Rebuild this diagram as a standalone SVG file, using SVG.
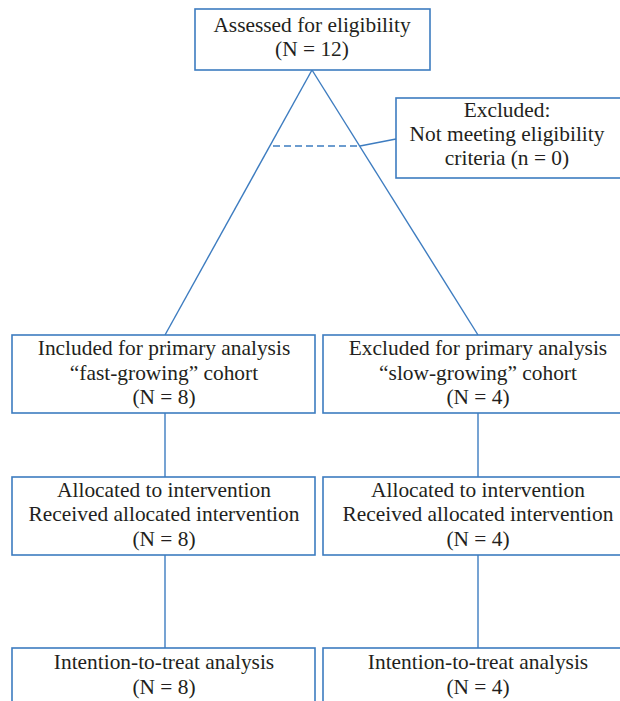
<svg xmlns="http://www.w3.org/2000/svg" width="620" height="701" viewBox="0 0 620 701">
<style>
.box{fill:#fff;stroke:#3d7cc0;stroke-width:1.6}
.ln{fill:none;stroke:#3d7cc0;stroke-width:1.4}
.dash{stroke-dasharray:7,4}
text{font-family:"Liberation Serif","DejaVu Serif",serif;font-size:21.4px;fill:#231f20;text-anchor:middle}
</style>
<rect width="620" height="701" fill="#fff"/>
<g id="connectors">
<line class="ln" x1="312" y1="70" x2="165" y2="335"/>
<line class="ln" x1="312" y1="70" x2="478" y2="335"/>
<line class="ln dash" x1="273" y1="146" x2="360" y2="146"/>
<line class="ln" x1="360" y1="146" x2="396" y2="139"/>
<line class="ln" x1="165" y1="413" x2="165" y2="477"/>
<line class="ln" x1="478" y1="413" x2="478" y2="477"/>
<line class="ln" x1="165" y1="555" x2="165" y2="648"/>
<line class="ln" x1="478" y1="555" x2="478" y2="648"/>
</g>
<g id="assessed">
<rect class="box" x="195" y="9" width="235" height="61"/>
<text x="312" y="32">Assessed for eligibility</text>
<text x="312" y="56">(N = 12)</text>
</g>
<g id="excluded">
<rect class="box" x="396" y="98" width="230" height="80"/>
<text x="507" y="117">Excluded:</text>
<text x="507" y="141">Not meeting eligibility</text>
<text x="507" y="165">criteria (n = 0)</text>
</g>
<g id="included-fast">
<rect class="box" x="12" y="335" width="303" height="78"/>
<text x="164" y="355">Included for primary analysis</text>
<text x="164" y="380">“fast-growing” cohort</text>
<text x="164" y="404">(N = 8)</text>
</g>
<g id="excluded-slow">
<rect class="box" x="323" y="335" width="310" height="78"/>
<text x="478" y="355">Excluded for primary analysis</text>
<text x="478" y="380">“slow-growing” cohort</text>
<text x="478" y="404">(N = 4)</text>
</g>
<g id="alloc-fast">
<rect class="box" x="12" y="477" width="303" height="78"/>
<text x="164" y="497">Allocated to intervention</text>
<text x="164" y="521">Received allocated intervention</text>
<text x="164" y="546">(N = 8)</text>
</g>
<g id="alloc-slow">
<rect class="box" x="323" y="477" width="310" height="78"/>
<text x="478" y="497">Allocated to intervention</text>
<text x="478" y="521">Received allocated intervention</text>
<text x="478" y="546">(N = 4)</text>
</g>
<g id="itt-fast">
<rect class="box" x="12" y="648" width="303" height="70"/>
<text x="164" y="669">Intention-to-treat analysis</text>
<text x="164" y="694">(N = 8)</text>
</g>
<g id="itt-slow">
<rect class="box" x="323" y="648" width="310" height="70"/>
<text x="478" y="669">Intention-to-treat analysis</text>
<text x="478" y="694">(N = 4)</text>
</g>
</svg>
